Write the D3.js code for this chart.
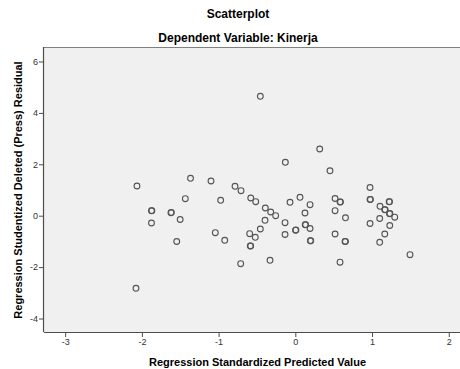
<!DOCTYPE html>
<html><head><meta charset="utf-8">
<script src="https://cdn.jsdelivr.net/npm/d3@7"></script>
<style>
html,body{margin:0;padding:0;background:#fff;}
svg{display:block;font-family:"Liberation Sans",Arial,sans-serif;}
</style></head>
<body>
<svg id="chart" width="460" height="369"></svg>
<script>
const title = "Scatterplot";
const subtitle = "Dependent Variable: Kinerja";
const xLabel = "Regression Standardized Predicted Value";
const yLabel = "Regression Studentized Deleted (Press) Residual";
const xTicks = [-3, -2, -1, 0, 1, 2];
const yTicks = [-4, -2, 0, 2, 4, 6];
const xValues = [-2.064,-2.077,-1.875,-1.870,-1.621,-1.616,-1.875,-1.501,-1.434,-1.366,-1.546,-1.099,-0.973,-1.043,-0.920,-0.786,-0.708,-0.712,-0.581,-0.516,-0.595,-0.522,-0.587,-0.582,-0.456,-0.391,-0.321,-0.256,-0.395,-0.456,-0.330,-0.130,-0.069,0.061,0.192,0.126,-0.134,-0.134,0.003,0.008,0.129,0.134,0.192,0.196,0.201,0.318,0.452,0.518,0.583,0.588,0.518,0.654,0.518,0.648,0.653,0.583,0.974,0.974,0.979,1.228,1.223,1.104,1.166,1.171,1.228,1.233,1.296,0.974,1.100,1.231,1.166,1.100,1.495];
const yValues = [1.156,-2.825,0.191,0.196,0.117,0.122,-0.284,-0.148,0.661,1.455,-1.004,1.350,0.599,-0.661,-0.957,1.144,0.973,-1.868,0.689,0.545,-0.700,-0.840,-1.179,-1.174,4.646,0.300,0.144,0.000,-0.179,-0.518,-1.735,2.078,0.521,0.716,0.428,0.105,-0.272,-0.732,-0.564,-0.559,-0.354,-0.349,-0.498,-0.977,-0.972,2.595,1.747,0.669,0.533,0.538,0.195,-0.082,-0.712,-1.004,-0.999,-1.809,1.097,0.630,0.635,0.541,0.546,0.366,0.230,0.235,0.078,0.083,-0.058,-0.304,-0.109,-0.381,-0.712,-1.035,-1.518];

const svg = d3.select("#chart");
const L = 44, R = 471, T = 47, B = 332;
const x = d3.scaleLinear().domain([-3.276, 2.29]).range([L, R]);
const y = d3.scaleLinear().domain([-4.525, 6.564]).range([B, T]);

svg.append("rect").attr("x", L).attr("y", T).attr("width", R - L).attr("height", B - T)
  .attr("fill", "#f0f0f0");
svg.append("line").attr("x1", L).attr("x2", R).attr("y1", T + 0.5).attr("y2", T + 0.5)
  .attr("stroke", "#808080").attr("stroke-width", 1);

const pts = xValues.map((v, i) => [v, yValues[i]]);
svg.append("g").selectAll("circle").data(pts).join("circle")
  .attr("cx", d => x(d[0])).attr("cy", d => y(d[1])).attr("r", 2.9)
  .attr("fill", "none").attr("stroke", "#555").attr("stroke-width", 1.1);

const xAxis = svg.append("g").attr("transform", `translate(0,${B})`)
  .call(d3.axisBottom(x).tickValues(xTicks).tickSize(5).tickPadding(2).tickFormat(d3.format("d")));
const yAxis = svg.append("g").attr("transform", `translate(${L},0)`)
  .call(d3.axisLeft(y).tickValues(yTicks).tickSize(5).tickPadding(1).tickFormat(d3.format("d")));
[xAxis, yAxis].forEach(g => {
  g.select(".domain").attr("stroke", "#4d4d4d").attr("stroke-width", 1.2);
  g.selectAll(".tick line").attr("stroke", "#4d4d4d");
  g.selectAll(".tick text").attr("fill", "#333").attr("font-size", 9)
    .attr("font-family", "Liberation Sans, Arial, sans-serif").text(d => d < 0 ? "-" + Math.abs(d) : d);
});
xAxis.select(".domain").attr("d", `M${L},0.5H${R}`);
yAxis.select(".domain").attr("d", `M-0.5,${T}V${B}`);

svg.append("text").attr("x", 238).attr("y", 18).attr("text-anchor", "middle")
  .attr("font-size", 12).attr("font-weight", "bold").attr("fill", "#000").text(title);
svg.append("text").attr("x", 238).attr("y", 42).attr("text-anchor", "middle")
  .attr("font-size", 12).attr("font-weight", "bold").attr("fill", "#000").text(subtitle);
svg.append("text").attr("x", 257.5).attr("y", 365.5).attr("text-anchor", "middle")
  .attr("font-size", 11).attr("font-weight", "bold").attr("fill", "#000").text(xLabel);
svg.append("text").attr("transform", "translate(22,190) rotate(-90)").attr("text-anchor", "middle")
  .attr("font-size", 11).attr("font-weight", "bold").attr("fill", "#000").text(yLabel);
</script>
</body></html>
